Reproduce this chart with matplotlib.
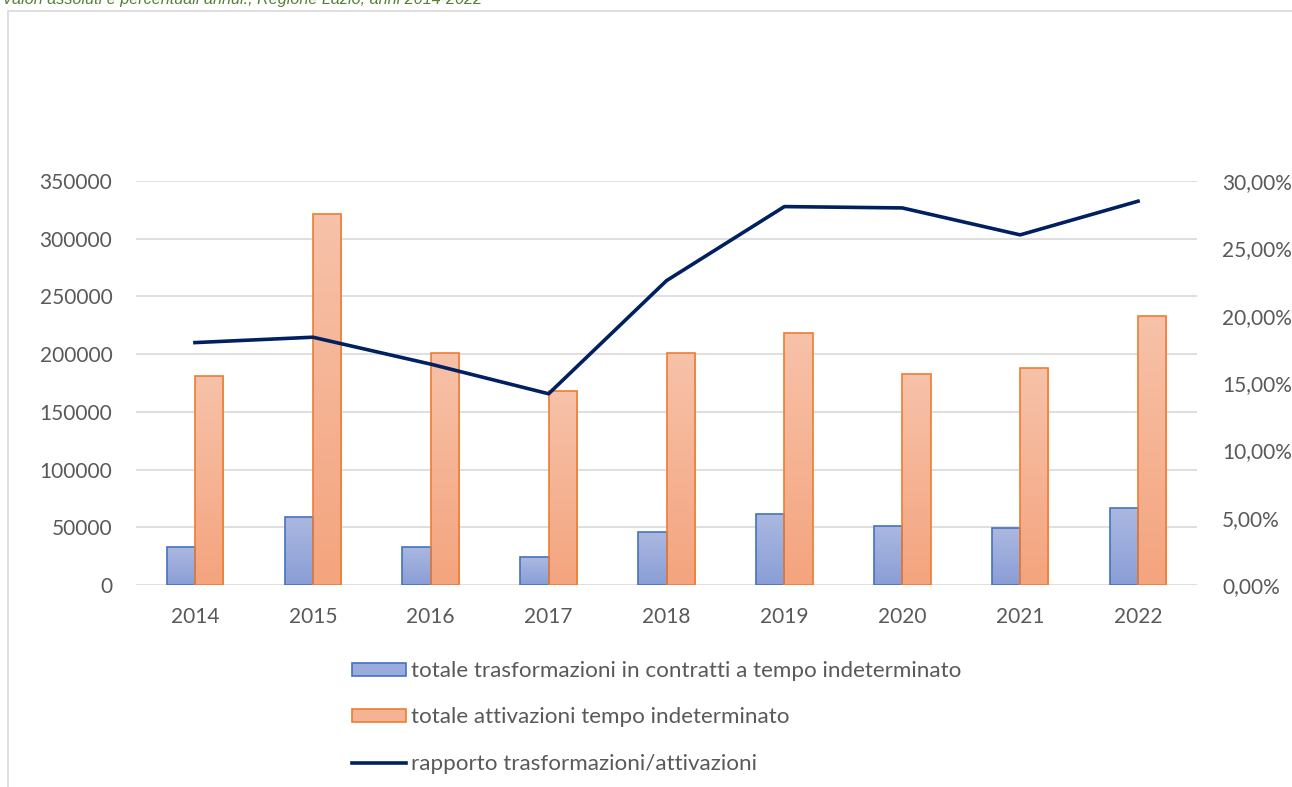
import matplotlib.pyplot as plt
import numpy as np
from matplotlib.colors import LinearSegmentedColormap
from matplotlib.patches import Patch, Rectangle
from matplotlib.lines import Line2D

years = ['2014', '2015', '2016', '2017', '2018', '2019', '2020', '2021', '2022']
trasformazioni = [32800, 59200, 33200, 24200, 45600, 61800, 51400, 49100, 66400]
attivazioni = [181000, 321500, 201000, 168000, 201000, 218000, 182800, 188300, 233000]
rapporto = [0.180, 0.184, 0.164, 0.142, 0.226, 0.281, 0.280, 0.260, 0.285]

left_ticks = [0, 50000, 100000, 150000, 200000, 250000, 300000, 350000]
right_ticks = [0.0, 0.05, 0.10, 0.15, 0.20, 0.25, 0.30]

label_trasf = 'totale trasformazioni in contratti a tempo indeterminato'
label_attiv = 'totale attivazioni tempo indeterminato'
label_rapp = 'rapporto trasformazioni/attivazioni'
titolo = 'Valori assoluti e percentuali annui., Regione Lazio, anni 2014-2022'

FONT = 'Lato'
GREY = '#595959'
GRID = '#D9D9D9'

blue_grad = LinearSegmentedColormap.from_list('blu', ['#8A9ED6', '#ABB8E0'])
orange_grad = LinearSegmentedColormap.from_list('arancio', ['#F4A47E', '#F7C2A9'])


def gradient_bars(ax, xs, heights, width, cmap, edge):
    '''
    Draws bars filled with a vertical gradient, one image per bar clipped to the bar.
    '''
    grad = np.linspace(0, 1, 256).reshape(-1, 1)
    bars = ax.bar(xs, heights, width, facecolor='none', edgecolor=edge,
                  linewidth=1.2, zorder=3)
    for b in bars:
        x0 = b.get_x()
        h = b.get_height()
        im = ax.imshow(grad, cmap=cmap, origin='lower', aspect='auto',
                       extent=[x0, x0 + b.get_width(), 0, h], zorder=2)
        im.set_clip_path(b)
    return bars


fig = plt.figure(figsize=(12.92, 7.87), dpi=100)

# outer chart frame
fig.patches.append(Rectangle((7.5 / 1292, -0.01), 1.1, 1 - 11 / 787 + 0.01,
                             transform=fig.transFigure, facecolor='none',
                             edgecolor=GRID, linewidth=1.2))
fig.text(2 / 1292, 1 - 4 / 787, titolo, color='#538135', fontsize=11.6,
         style='italic', family='Liberation Sans', va='baseline', ha='left')

ax = fig.add_axes([136 / 1292, 1 - 585 / 787, (1197 - 136) / 1292, (585 - 181) / 787])
x = np.arange(len(years))
w = 0.24

gradient_bars(ax, x - w / 2, trasformazioni, w, blue_grad, '#4472C4')
gradient_bars(ax, x + w / 2, attivazioni, w, orange_grad, '#ED7D31')

ax.set_xlim(-0.5, len(years) - 0.5)
ax.set_ylim(0, 350000)
ax.set_yticks(left_ticks)
ax.set_yticklabels([str(t) for t in left_ticks])
ax.set_xticks(x)
ax.set_xticklabels(years)
ax.yaxis.grid(True, color=GRID, linewidth=1.2)
ax.set_axisbelow(True)
for s in ax.spines.values():
    s.set_visible(False)
ax.tick_params(axis='both', length=0, labelsize=15, labelcolor=GREY)
ax.tick_params(axis='y', pad=17)
ax.tick_params(axis='x', pad=15.5)

ax2 = ax.twinx()
ax2.plot(x, rapporto, color='#002060', linewidth=2.6, zorder=5)
ax2.set_ylim(0, 0.30)
ax2.set_yticks(right_ticks)
ax2.set_yticklabels([('%.2f%%' % (t * 100)).replace('.', ',') for t in right_ticks])
for s in ax2.spines.values():
    s.set_visible(False)
ax2.tick_params(axis='y', length=0, labelsize=15, labelcolor=GREY, pad=18)

for a in (ax, ax2):
    for lab in a.get_xticklabels() + a.get_yticklabels():
        lab.set_family(FONT)

handles = [
    Patch(facecolor='#9BABDB', edgecolor='#4472C4', linewidth=1.2),
    Patch(facecolor='#F5B393', edgecolor='#ED7D31', linewidth=1.2),
    Line2D([0], [0], color='#002060', linewidth=2.6),
]
leg = fig.legend(handles, [label_trasf, label_attiv, label_rapp],
                 loc='upper left', bbox_to_anchor=(352 / 1292, 1 - 661 / 787),
                 frameon=False, borderpad=0, borderaxespad=0,
                 handlelength=2.4, handleheight=0.52, handletextpad=0.22,
                 labelspacing=1.18, prop={'family': FONT, 'size': 16.1})
for t in leg.get_texts():
    t.set_color(GREY)

fig.savefig('out.png', dpi=100)
